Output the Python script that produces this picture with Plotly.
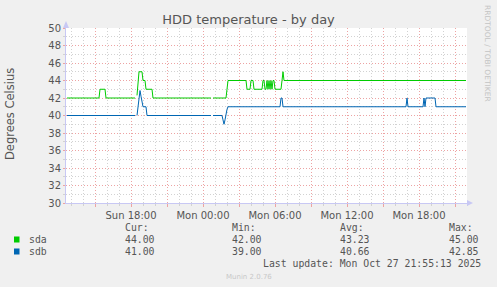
import plotly.graph_objects as go
import pandas as pd

# ---------------- data (5-minute samples) ----------------
SAMPLE_START = "2025-10-26 12:40"
SAMPLE_STEP = "5min"

# run-length encoded readings: level and number of consecutive 5-min samples
sda_level = [42, 43, 42, None, 42.3, 43.7, 45, 44, 43, 42, None, 42, 43, 44, 43, 44, 43,
             44, 43, 44, 43, 44, 43, 44, 43, 44, 43, 44, 45, 44]
sda_len = [33, 6, 30, 1, 1, 1, 4, 3, 7, 59, 1, 14, 1, 19, 4, 3, 9,
           2, 2, 1, 1, 1, 1, 1, 1, 2, 7, 1, 1, 183]

sdb_level = [40, None, 40, 41, 42, 42.85, 42.2, 41.5, 41, 40, None, 40, 39.5, 39, 39.5,
             40.2, 40.7, 41, 42, 41, 42, 41, 42, 41, 42, 41]
sdb_len = [69, 1, 1, 1, 1, 1, 1, 1, 4, 65, 1, 10, 1, 1, 1,
           1, 1, 53, 2, 124, 1, 16, 1, 1, 10, 31]

series_names = ["sda", "sdb"]
series_colors = ["#00CC00", "#0066B3"]
stat_cur = ["44.00", "41.00"]
stat_min = ["42.00", "39.00"]
stat_avg = ["43.23", "40.66"]
stat_max = ["45.00", "42.85"]

x_start = "2025-10-26 12:35"
x_end = "2025-10-27 22:00"
x_tickvals = ["2025-10-26 15:00", "2025-10-26 18:00", "2025-10-26 21:00",
              "2025-10-27 00:00", "2025-10-27 03:00", "2025-10-27 06:00",
              "2025-10-27 09:00", "2025-10-27 12:00", "2025-10-27 15:00",
              "2025-10-27 18:00", "2025-10-27 21:00"]
x_ticktext = ["", "Sun 18:00", "", "Mon 00:00", "", "Mon 06:00", "",
              "Mon 12:00", "", "Mon 18:00", ""]
y_min, y_max = 30, 50

title_text = "HDD temperature - by day"
y_title = "Degrees Celsius"
last_update = "Last update: Mon Oct 27 21:55:13 2025"
munin_version = "Munin 2.0.76"
side_text = "RRDTOOL / TOBI OETIKER"


def expand(levels, lens):
    out = []
    for v, n in zip(levels, lens):
        out.extend([v] * n)
    return out


sda = expand(sda_level, sda_len)
sdb = expand(sdb_level, sdb_len)
times = pd.date_range(SAMPLE_START, periods=len(sda), freq=SAMPLE_STEP)

# ---------------- layout geometry ----------------
W, H = 497, 287
L, R, T, B = 66, 467, 28, 203


def px(x):
    return (x - L) / (R - L)


def py(y):
    return (B - y) / (B - T)


GRID_RED = "#EDA3A3"
GRID_GREY = "#D2D2D2"
AXIS_COL = "#C8C8F4"
TXT = "#555555"
SANS = "DejaVu Sans"
MONO = "DejaVu Sans Mono"

fig = go.Figure()
for name, col, vals in zip(series_names, series_colors, [sda, sdb]):
    fig.add_trace(go.Scatter(x=times, y=vals, mode="lines", name=name,
                             line=dict(color=col, width=1), connectgaps=False,
                             showlegend=False, hoverinfo="skip"))

fig.update_layout(
    width=W, height=H,
    margin=dict(l=L, r=W - R, t=T, b=H - B, pad=0),
    paper_bgcolor="#F0F0F0", plot_bgcolor="#FFFFFF",
    font=dict(family=SANS, size=10, color=TXT),
    title=dict(text=title_text, x=0.5, xanchor="center", y=1 - 19 / H, yanchor="middle",
               font=dict(family=SANS, size=13, color=TXT)),
    xaxis=dict(
        type="date", range=[x_start, x_end],
        tickmode="array", tickvals=x_tickvals, ticktext=x_ticktext,
        showgrid=True, gridcolor=GRID_RED, griddash="1px,2px", gridwidth=1,
        ticks="outside", ticklen=3, tickcolor=GRID_RED, tickfont=dict(size=10, color=TXT),
        showline=True, linecolor=AXIS_COL, linewidth=1, zeroline=False,
        minor=dict(dtick=3600000, tick0="2025-10-26 00:00", showgrid=True,
                   gridcolor=GRID_GREY, griddash="1px,2px", gridwidth=1,
                   ticks="outside", ticklen=2, tickcolor=GRID_GREY),
    ),
    yaxis=dict(
        range=[y_min, y_max], tickmode="linear", tick0=30, dtick=2,
        showgrid=True, gridcolor=GRID_RED, griddash="1px,2px", gridwidth=1,
        ticks="outside", ticklen=2, tickcolor=GRID_RED, tickfont=dict(size=10, color=TXT),
        showline=True, linecolor=AXIS_COL, linewidth=1, zeroline=False,
        minor=dict(dtick=1, showgrid=True, gridcolor=GRID_GREY, griddash="1px,2px",
                   gridwidth=1, ticks="outside", ticklen=2, tickcolor=GRID_GREY),
    ),
)

ann = []
# y-axis title
ann.append(dict(x=px(10), y=py(114), xref="paper", yref="paper", text=y_title,
                textangle=-90, showarrow=False, font=dict(family=SANS, size=11.5, color=TXT),
                xanchor="center", yanchor="middle"))
# side credit
ann.append(dict(x=px(488), y=py(53), xref="paper", yref="paper", text=side_text,
                textangle=90, showarrow=False, font=dict(family=SANS, size=7.5, color="#C4C4C4"),
                xanchor="center", yanchor="middle"))
# legend table
col_x = [122.5, 230, 338, 447]
headers = ["Cur:", "Min:", "Avg:", "Max:"]
for cx, h in zip(col_x, headers):
    ann.append(dict(x=px(cx), y=py(227.5), xref="paper", yref="paper", text=h,
                    showarrow=False, font=dict(family=MONO, size=9.8, color=TXT),
                    xanchor="left", yanchor="middle"))
row_y = [239.5, 251.5]
for i, name in enumerate(series_names):
    ann.append(dict(x=px(26.5), y=py(row_y[i]), xref="paper", yref="paper", text=name,
                    showarrow=False, font=dict(family=MONO, size=9.8, color=TXT),
                    xanchor="left", yanchor="middle"))
    for cx, v in zip(col_x, [stat_cur[i], stat_min[i], stat_avg[i], stat_max[i]]):
        ann.append(dict(x=px(cx), y=py(row_y[i]), xref="paper", yref="paper", text=v,
                        showarrow=False, font=dict(family=MONO, size=9.8, color=TXT),
                        xanchor="left", yanchor="middle"))
ann.append(dict(x=px(482.5), y=py(263), xref="paper", yref="paper", text=last_update,
                showarrow=False, font=dict(family=MONO, size=9.8, color=TXT),
                xanchor="right", yanchor="middle"))
ann.append(dict(x=px(248.5), y=py(276.5), xref="paper", yref="paper", text=munin_version,
                showarrow=False, font=dict(family=SANS, size=7, color="#C8C8C8"),
                xanchor="center", yanchor="middle"))
fig.update_layout(annotations=ann)

shapes = []
for i, col in enumerate(series_colors):
    shapes.append(dict(type="rect", xref="paper", yref="paper",
                       x0=px(14), x1=px(19.5), y0=py(row_y[i] - 3), y1=py(row_y[i] + 3),
                       fillcolor=col, line=dict(width=0)))
# axis arrows
shapes.append(dict(type="path", xref="paper", yref="paper", xsizemode="pixel", ysizemode="pixel",
                   xanchor=0, yanchor=1, path="M -3,0 L 3,0 L 0,7 Z",
                   fillcolor=AXIS_COL, line=dict(width=0)))
shapes.append(dict(type="path", xref="paper", yref="paper", xsizemode="pixel", ysizemode="pixel",
                   xanchor=1, yanchor=0, path="M 0,-3 L 0,3 L 6,0 Z",
                   fillcolor=AXIS_COL, line=dict(width=0)))
fig.update_layout(shapes=shapes)

fig.write_html("out.html")
